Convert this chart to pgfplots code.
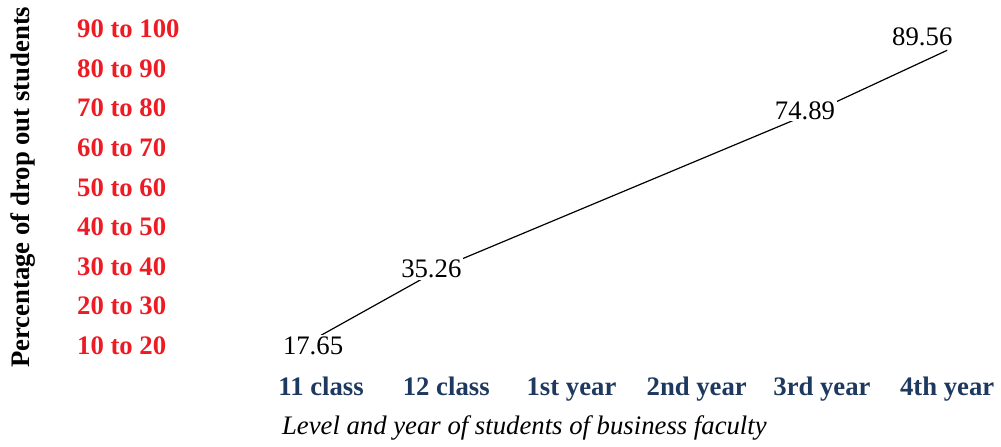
\documentclass[border=0pt]{standalone}
\usepackage{fontspec}
\setmainfont{Liberation Serif}
\usepackage{pgfplots}
\usepackage{pgfplotstable}
\pgfplotsset{compat=1.18}
\definecolor{bandred}{RGB}{237,28,36}
\definecolor{levelblue}{RGB}{30,57,95}

% x = level index (0 = 11 class ... 5 = 4th year), dx/dy = label offset in pt
\pgfplotstableread{
x y dx dy
0 17.65 -4 -5.25
1 35.26 -7.5 -1.75
4 74.89 -8.5 -1
5 89.56 -12.5 6.8
}\dropout

\begin{document}
\begin{tikzpicture}
\begin{axis}[
    scale only axis,
    width=367.4pt, height=178.9pt,
    xmin=-0.5, xmax=5.35, ymin=10, ymax=100,
    axis line style={draw=none},
    tick style={draw=none},
    clip=false,
    /pgf/number format/assume math mode=true,
    /pgf/number format/fixed,
    /pgf/number format/precision=2,
    xtick={0,1,2,3,4,5},
    xticklabels={11 class, 12 class, 1st year, 2nd year, 3rd year, 4th year},
    xticklabel style={anchor=base, yshift=-15pt, text=levelblue,
        font={\fontsize{13.4}{16}\selectfont\bfseries}},
    ytick={15,25,35,45,55,65,75,85,95},
    yticklabels={10 to 20, 20 to 30, 30 to 40, 40 to 50, 50 to 60,
        60 to 70, 70 to 80, 80 to 90, 90 to 100},
    yticklabel style={anchor=west, inner sep=0pt, xshift=-91.1pt, text=bandred,
        font={\fontsize{13.4}{16}\selectfont\bfseries}},
    xlabel={Level and year of students of business faculty},
    xlabel style={at={(axis description cs:0.363,0)}, anchor=base, yshift=-34.5pt,
        font={\fontsize{13.4}{16}\selectfont\itshape}},
    ylabel={Percentage of drop out students},
    ylabel style={at={(axis description cs:-0.3215,0.5)}, anchor=center,
        font={\fontsize{13.4}{16}\selectfont\bfseries}},
]
\addplot[black, line width=0.6pt, mark=none,
    visualization depends on={\thisrow{dx} \as \dx},
    visualization depends on={\thisrow{dy} \as \dy},
    nodes near coords,
    every node near coord/.append style={anchor=center,
        xshift=\dx pt, yshift=\dy pt,
        fill=white, inner sep=1pt, text=black,
        font={\fontsize{13.4}{16}\selectfont}}]
    table[x=x, y=y] {\dropout};
\end{axis}
\path ([xshift=-129.6pt, yshift=-39.05pt]current axis.south west)
    rectangle ([xshift=3.5pt, yshift=4.05pt]current axis.north east);
\end{tikzpicture}
\end{document}
